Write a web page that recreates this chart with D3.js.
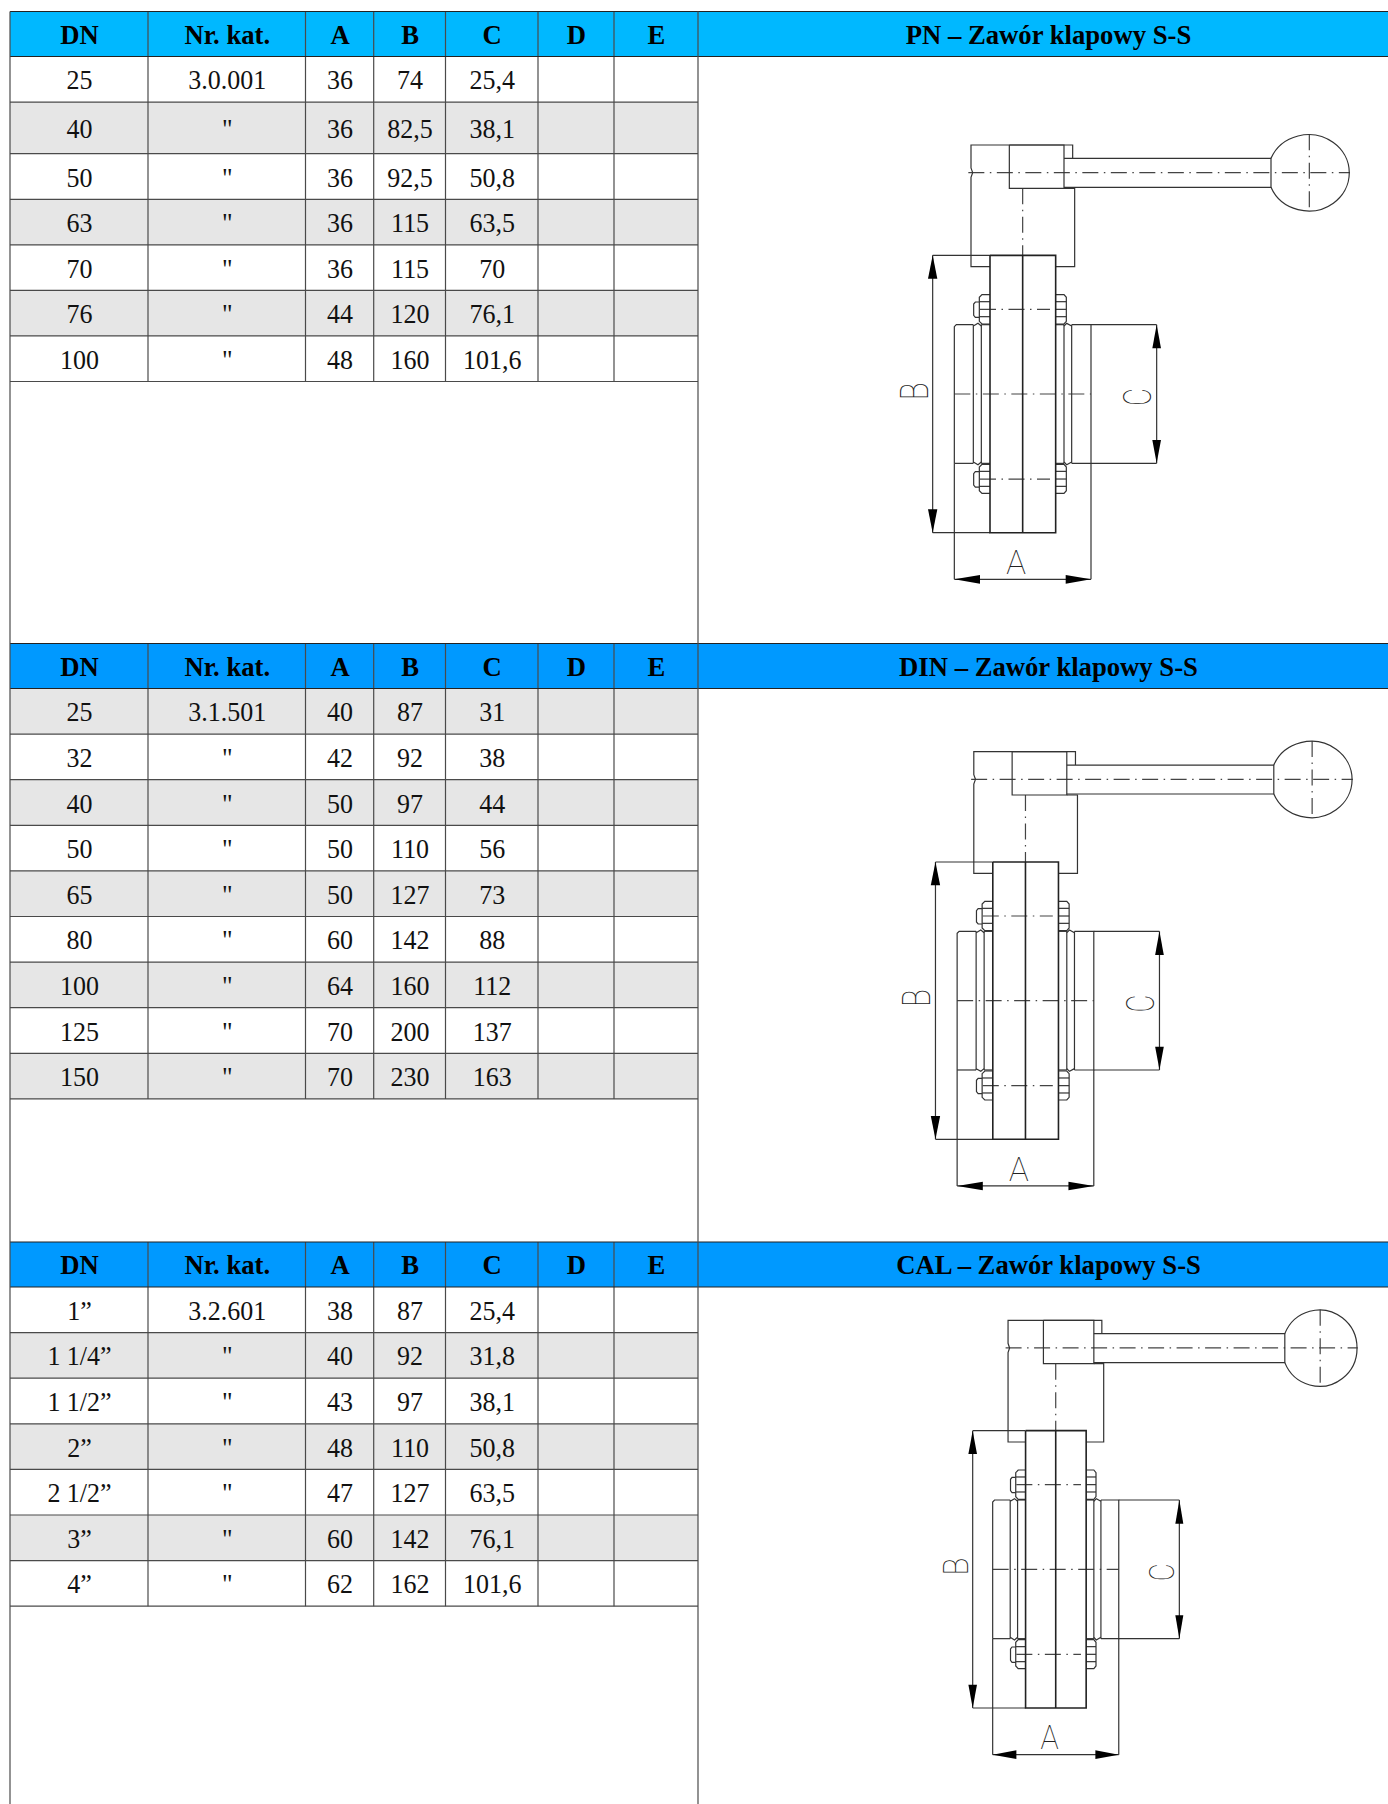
<!DOCTYPE html>
<html>
<head>
  <script src="https://cdnjs.cloudflare.com/ajax/libs/d3/7.8.5/d3.min.js" type="text/javascript"></script>
  <style>
    body { margin: 0; background: #fff; }
    svg { display: block; }
    .cell { font-family: "Liberation Serif", serif; font-size: 27.5px; text-anchor: middle; fill: #111; }
    .head { font-weight: bold; fill: #000; }
    .grid { stroke: #4a4a4a; stroke-width: 1.2px; fill: none; }
    .part { stroke: #333; stroke-width: 1.2px; fill: none; }
    .heavy { stroke: #222; stroke-width: 1.6px; fill: none; }
    .axis-line { stroke: #444; stroke-width: 1.2px; fill: none; stroke-dasharray: 16 5.5 1.5 5.5; }
    .arrow { fill: #000; stroke: none; }
    .letter { font-family: "Roboto", "DejaVu Sans", sans-serif; font-weight: 100; fill: #222; text-anchor: middle; font-size: 37px; }
  </style>
</head>
<body>
  <svg id="sheet" width="1388" height="1804"></svg>
  <script>

// table values
var columns = ["DN", "Nr. kat.", "A", "B", "C", "D", "E"];

var pnTitle = "PN – Zawór klapowy S-S";
var pnDN = ["25", "40", "50", "63", "70", "76", "100"];
var pnKat = ["3.0.001", '"', '"', '"', '"', '"', '"'];
var pnA = ["36", "36", "36", "36", "36", "44", "48"];
var pnB = ["74", "82,5", "92,5", "115", "115", "120", "160"];
var pnC = ["25,4", "38,1", "50,8", "63,5", "70", "76,1", "101,6"];

var dinTitle = "DIN – Zawór klapowy S-S";
var dinDN = ["25", "32", "40", "50", "65", "80", "100", "125", "150"];
var dinKat = ["3.1.501", '"', '"', '"', '"', '"', '"', '"', '"'];
var dinA = ["40", "42", "50", "50", "50", "60", "64", "70", "70"];
var dinB = ["87", "92", "97", "110", "127", "142", "160", "200", "230"];
var dinC = ["31", "38", "44", "56", "73", "88", "112", "137", "163"];

var calTitle = "CAL – Zawór klapowy S-S";
var calDN = ["1”", "1 1/4”", "1 1/2”", "2”", "2 1/2”", "3”", "4”"];
var calKat = ["3.2.601", '"', '"', '"', '"', '"', '"'];
var calA = ["38", "40", "43", "48", "47", "60", "62"];
var calB = ["87", "92", "97", "110", "127", "142", "162"];
var calC = ["25,4", "31,8", "38,1", "50,8", "63,5", "76,1", "101,6"];

// sheet layout
var W = 1388, H = 1804;
var colEdges = [10, 148, 305.5, 373.7, 445.5, 538, 614, 698];

var sections = [
  { title: pnTitle, rows: d3.zip(pnDN, pnKat, pnA, pnB, pnC), color: "#00b8ff", firstGray: 1,
    top: 11.5, bottom: 56.5, heights: [45.6, 51.6, 45.6, 45.6, 45.4, 45.6, 45.6],
    xr: [880, 1350], yr: [120, 586.7], kx: 1 },
  { title: dinTitle, rows: d3.zip(dinDN, dinKat, dinA, dinB, dinC), color: "#0099ff", firstGray: 0,
    top: 643.5, bottom: 688.5, heights: [45.6, 45.6, 45.6, 45.6, 45.6, 45.6, 45.6, 45.6, 45.6],
    xr: [882.8, 1352.8], yr: [726.7, 1193.3], kx: 1 },
  { title: calTitle, rows: d3.zip(calDN, calKat, calA, calB, calC), color: "#0099ff", firstGray: 1,
    top: 1242, bottom: 1287, heights: [45.6, 45.6, 45.6, 45.6, 45.6, 45.6, 45.6],
    xr: [924.1, 1357.7], yr: [1295.3, 1762], kx: 0.9225 }
];

// valve outline, in drawing units
var outlines = [
  [[330, 440], [273, 440], [273, 172], [278, 158], [273, 144], [273, 75], [578, 75], [578, 115]],
  [[388, 75], [552, 75], [552, 205], [388, 205], [388, 75]],
  [[552, 115], [1173, 115], [1173, 202], [552, 202]],
  [[552, 205], [584, 205], [584, 440], [527, 440]],
  // hub
  [[223, 1030], [223, 620], [229, 614], [280, 614]],
  [[223, 1030], [280, 1030]],
  [[575, 614], [633, 614], [633, 1030], [575, 1030]],
  [[280, 614], [280, 1030]],
  [[304, 614], [304, 1030]],
  [[304, 614], [330, 614]],
  [[304, 1030], [330, 1030]],
  [[527, 614], [552, 614]],
  [[527, 1030], [552, 1030]],
  [[552, 614], [552, 1030]],
  [[575, 614], [575, 1030]],
  [[280, 618], [294, 610], [304, 618]],
  [[280, 1026], [294, 1034], [304, 1026]],
  [[552, 618], [560, 610], [575, 618]],
  [[552, 1026], [560, 1034], [575, 1026]],
  // bolts
  [[330, 524], [306, 524], [298, 532], [298, 604], [306, 612], [330, 612]],
  [[298, 545], [330, 545]],
  [[298, 590], [330, 590]],
  [[298, 546], [286, 546], [281, 552], [281, 586], [286, 592], [298, 592]],
  [[527, 524], [552, 524], [559, 532], [559, 604], [552, 612], [527, 612]],
  [[527, 545], [559, 545]],
  [[527, 568], [559, 568]],
  [[527, 590], [559, 590]],
  [[330, 1033], [306, 1033], [298, 1041], [298, 1112], [306, 1120], [330, 1120]],
  [[298, 1054], [330, 1054]],
  [[298, 1099], [330, 1099]],
  [[298, 1055], [286, 1055], [281, 1061], [281, 1095], [286, 1101], [298, 1101]],
  [[527, 1033], [552, 1033], [559, 1041], [559, 1112], [552, 1120], [527, 1120]],
  [[527, 1054], [559, 1054]],
  [[527, 1077], [559, 1077]],
  [[527, 1099], [559, 1099]],
  // dimension lines
  [[158, 406], [330, 406]],
  [[158, 1238], [330, 1238]],
  [[158, 406], [158, 1238]],
  [[633, 614], [830, 614]],
  [[633, 1030], [830, 1030]],
  [[830, 614], [830, 1030]],
  [[223, 1030], [223, 1378]],
  [[633, 1030], [633, 1378]],
  [[223, 1378], [633, 1378]]
];
var flange = [
  [[330, 406], [527, 406], [527, 1238], [330, 1238], [330, 406]],
  [[428, 406], [428, 1238]]
];
var centerLines = [
  [[265, 158], [1410, 158]],
  [[428, 205], [428, 406]],
  [[1288, 43], [1288, 272]],
  [[223, 822], [633, 822]],
  [[300, 568], [510, 568]],
  [[300, 1077], [510, 1077]]
];
var arrows = [
  [[158, 406], [144, 476], [172, 476]],
  [[158, 1238], [144, 1168], [172, 1168]],
  [[830, 614], [817, 685], [843, 685]],
  [[830, 1030], [817, 960], [843, 960]],
  [[223, 1378], [300, 1365], [300, 1391]],
  [[633, 1378], [557, 1365], [557, 1391]]
];
var ball = { start: [1173, 115], end: [1173, 202], rx: 122, ry: 114.5 };
var letters = [
  { t: "A", x: 408, y: 1362, rot: 0, size: 33, squeeze: 1 },
  { t: "B", x: 143, y: 814, rot: -90, size: 38, squeeze: 0.78 },
  { t: "C", x: 813, y: 831, rot: -90, size: 38, squeeze: 0.72 }
];

var svg = d3.select("#sheet");
svg.append("rect").attr("width", W).attr("height", H).attr("fill", "#fff");

function drawTable(sec) {
  var g = svg.append("g");
  var edges = [sec.bottom].concat(Array.from(d3.cumsum(sec.heights), d => sec.bottom + d));

  // header band
  g.append("rect").attr("x", colEdges[0]).attr("y", sec.top)
    .attr("width", W - colEdges[0]).attr("height", sec.bottom - sec.top)
    .attr("fill", sec.color);

  // gray rows
  g.selectAll("rect.band")
    .data(sec.rows)
    .enter()
    .filter((d, i) => (i % 2) === sec.firstGray)
    .append("rect")
    .attr("class", "band")
    .attr("x", colEdges[0])
    .attr("width", colEdges[7] - colEdges[0])
    .attr("y", (d) => edges[sec.rows.indexOf(d)])
    .attr("height", (d) => sec.heights[sec.rows.indexOf(d)])
    .attr("fill", "#e6e6e6");

  var last = edges[edges.length - 1];

  // vertical rules
  g.selectAll("line.v")
    .data(colEdges.slice(1, 7))
    .enter()
    .append("line")
    .attr("class", "grid")
    .attr("x1", d => d).attr("x2", d => d)
    .attr("y1", sec.top).attr("y2", last);

  // horizontal rules
  g.selectAll("line.h")
    .data(edges.slice(1))
    .enter()
    .append("line")
    .attr("class", "grid")
    .attr("x1", colEdges[0]).attr("x2", colEdges[7])
    .attr("y1", d => d).attr("y2", d => d);

  [sec.top, sec.bottom].forEach(function (y) {
    g.append("line").attr("class", "grid").style("stroke", "#222")
      .attr("x1", colEdges[0]).attr("x2", W).attr("y1", y).attr("y2", y);
  });

  // header text
  g.selectAll("text.h")
    .data(columns)
    .enter()
    .append("text")
    .attr("class", "cell head")
    .attr("transform", (d, i) => "translate(" + ((colEdges[i] + colEdges[i + 1]) / 2 + 0.5) + "," + ((sec.top + sec.bottom) / 2 + 9.5) + ") scale(0.97,1)")
    .text(d => d);

  g.append("text").attr("class", "cell head")
    .attr("transform", "translate(1048.5," + ((sec.top + sec.bottom) / 2 + 9.5) + ") scale(0.97,1)")
    .text(sec.title);

  // rows
  sec.rows.forEach(function (row, r) {
    g.selectAll("text.r" + r)
      .data(row)
      .enter()
      .append("text")
      .attr("class", "cell")
      .attr("transform", (d, i) => "translate(" + ((colEdges[i] + colEdges[i + 1]) / 2 + 0.5) + "," + (edges[r] + sec.heights[r] / 2 + 10) + ") scale(0.945,1)")
      .text(d => d);
  });
}

function drawValve(sec) {
  var x = d3.scaleLinear().domain([0, 1410]).range(sec.xr);
  var y = d3.scaleLinear().domain([0, 1400]).range(sec.yr);
  var line = d3.line().x(d => x(d[0])).y(d => y(d[1]));
  var g = svg.append("g");

  g.selectAll("path.axis")
    .data(centerLines).enter().append("path")
    .attr("class", "axis-line").attr("d", line);

  g.selectAll("path.o")
    .data(outlines).enter().append("path")
    .attr("class", "part").attr("d", line);

  g.selectAll("path.f")
    .data(flange).enter().append("path")
    .attr("class", "heavy").attr("d", line);

  g.selectAll("path.a")
    .data(arrows).enter().append("path")
    .attr("class", "arrow").attr("d", d => line(d) + "Z");

  // ball of the handle, the long way round
  var rx = x(ball.rx) - x(0), ry = y(ball.ry) - y(0);
  g.append("path").attr("class", "part")
    .attr("d", "M" + x(ball.start[0]) + "," + y(ball.start[1]) +
      "A" + rx + "," + ry + " 0 1 1 " + x(ball.end[0]) + "," + y(ball.end[1]));

  g.selectAll("text")
    .data(letters).enter().append("text")
    .attr("class", "letter")
    .style("font-size", d => d.size + "px")
    .attr("transform", d => "translate(" + x(d.x) + "," + y(d.y) + ") scale(" + sec.kx + ",1) rotate(" + d.rot + ") scale(" + d.squeeze + ",1)")
    .text(d => d.t);
}

sections.forEach(drawTable);
sections.forEach(drawValve);

// outer verticals run the whole sheet
[colEdges[0], colEdges[7]].forEach(function (cx) {
  svg.append("line").attr("class", "grid")
    .attr("x1", cx).attr("x2", cx)
    .attr("y1", sections[0].top).attr("y2", H);
});
  </script>
</body>
</html>
